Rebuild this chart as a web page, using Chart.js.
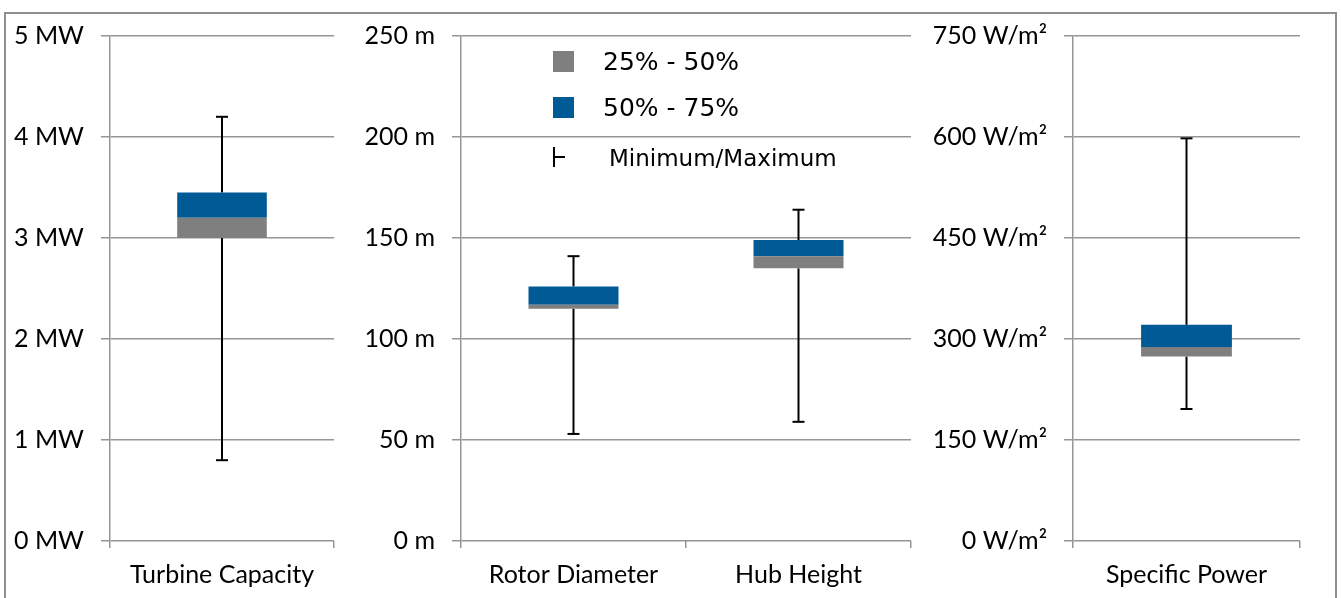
<!DOCTYPE html>
<html>
<head>
<meta charset="utf-8">
<script src="https://cdn.jsdelivr.net/npm/chart.js@4"></script>
<style>
  body { margin: 0; background: #fff; width: 1341px; height: 598px; overflow: hidden; position: relative; }
  .frame { position: absolute; left: 4px; top: 12px; width: 1333px; height: 600px; border: 2px solid #8f8f8f; box-sizing: border-box; }
  canvas { position: absolute; top: 0; }
  .lg-box { position: absolute; width: 21px; height: 21px; }
  .lg-text { position: absolute; font-family: "DejaVu Sans", sans-serif; font-size: 23px; color: #000; line-height: 1; white-space: nowrap; }
</style>
</head>
<body>
<div class="frame"></div>
<canvas id="capacity" width="345" height="598" style="left:0px"></canvas>
<canvas id="size" width="577" height="598" style="left:345px"></canvas>
<canvas id="power" width="419" height="598" style="left:922px"></canvas>

<!-- légende -->
<div class="lg-box" style="left:553px; top:51px; background:#7f7f7f"></div>
<div class="lg-text" style="left:603px; top:49px; font-size:25px">25% - 50%</div>
<div class="lg-box" style="left:553px; top:97px; background:#005a96"></div>
<div class="lg-text" style="left:603px; top:95px; font-size:25px">50% - 75%</div>
<div style="position:absolute; left:553px; top:147px; width:2px; height:20px; background:#000"></div>
<div style="position:absolute; left:553px; top:156px; width:12px; height:2px; background:#000"></div>
<div class="lg-text" style="left:609px; top:147px">Minimum/Maximum</div>

<script>
// Turbine capacity (MW)
const capacityLabels = ['Turbine Capacity'];
const capacityMin = [0.8];
const capacityQ1 = [3.0];
const capacityMedian = [3.2];
const capacityQ3 = [3.45];
const capacityMax = [4.2];
const capacityTicks = [0, 1, 2, 3, 4, 5];

// Rotor diameter / hub height (m)
const sizeLabels = ['Rotor Diameter', 'Hub Height'];
const sizeMin = [53, 59];
const sizeQ1 = [115, 135];
const sizeMedian = [117, 141];
const sizeQ3 = [126, 149];
const sizeMax = [141, 164];
const sizeTicks = [0, 50, 100, 150, 200, 250];

// Specific power (W/m²)
const powerLabels = ['Specific Power'];
const powerMin = [196];
const powerQ1 = [274];
const powerMedian = [288];
const powerQ3 = [321];
const powerMax = [598];
const powerTicks = [0, 150, 300, 450, 600, 750];

const GRID = '#959595';
const FONT = { family: 'Lato, sans-serif', size: 25 };

function whisker(data) {
  return {
    label: 'whisker', data: data,
    backgroundColor: '#000', inflateAmount: 0,
    grouped: false, barThickness: 2, order: 5
  };
}

function cap(data) {
  return {
    type: 'line', label: 'cap', data: data, showLine: false,
    pointStyle: 'line', pointRadius: 6, pointBorderWidth: 2,
    pointBorderColor: '#000', borderColor: '#000', order: 4
  };
}

function makeChart(id, labels, mins, q1, med, q3, maxs, ticks, unit, axisWidth, padRight) {
  const ctx = document.getElementById(id).getContext('2d');
  return new Chart(ctx, {
    type: 'bar',
    data: {
      labels: labels,
      datasets: [
        {
          label: '25% - 50%',
          data: q1.map((v, i) => [v, med[i]]),
          backgroundColor: '#7f7f7f',
          grouped: false, categoryPercentage: 1, barPercentage: 0.4,
          order: 1
        },
        {
          label: '50% - 75%',
          data: med.map((v, i) => [v, q3[i]]),
          backgroundColor: '#005a96',
          grouped: false, categoryPercentage: 1, barPercentage: 0.4,
          order: 1
        },
        whisker(mins.map((v, i) => [v, q1[i]])),
        whisker(q3.map((v, i) => [v, maxs[i]])),
        cap(maxs),
        cap(mins)
      ]
    },
    options: {
      responsive: false,
      animation: false,
      layout: { padding: { top: 36, right: padRight, left: 0, bottom: 0 } },
      plugins: { legend: { display: false }, tooltip: { enabled: false } },
      scales: {
        x: {
          grid: { display: true, drawOnChartArea: false, drawTicks: true, tickLength: 7, color: GRID, lineWidth: 1.5, offset: true },
          border: { display: false },
          ticks: { color: '#000', font: FONT, padding: 12, maxRotation: 0 },
          afterFit: (s) => { s.height = 57; }
        },
        y: {
          min: ticks[0],
          max: ticks[ticks.length - 1],
          grid: { color: GRID, lineWidth: 1.5, tickLength: 9 },
          border: { color: GRID, width: 1.5 },
          ticks: {
            stepSize: ticks[1] - ticks[0],
            color: '#000', font: FONT, padding: 17,
            callback: (v) => v + ' ' + unit
          },
          afterFit: (s) => { s.width = axisWidth; }
        }
      }
    }
  });
}

makeChart('capacity', capacityLabels, capacityMin, capacityQ1, capacityMedian, capacityQ3, capacityMax, capacityTicks, 'MW', 110, 11);
makeChart('size', sizeLabels, sizeMin, sizeQ1, sizeMedian, sizeQ3, sizeMax, sizeTicks, 'm', 116, 11);
makeChart('power', powerLabels, powerMin, powerQ1, powerMedian, powerQ3, powerMax, powerTicks, 'W/m²', 151, 41);
</script>
</body>
</html>
